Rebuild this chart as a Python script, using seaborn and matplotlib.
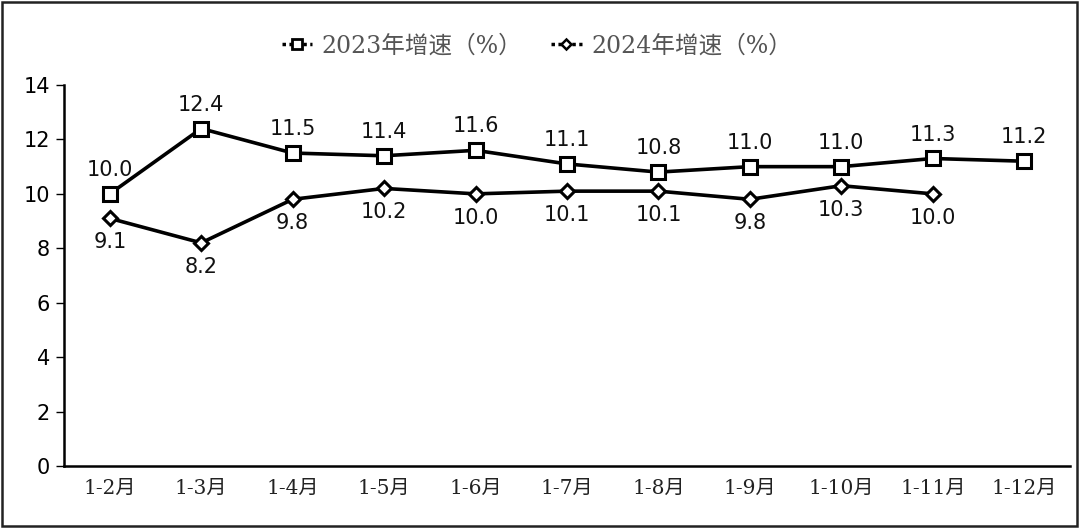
import pandas as pd
import matplotlib.pyplot as plt
import seaborn as sns
from matplotlib.patches import Rectangle
from matplotlib.lines import Line2D

months = ["1-2月", "1-3月", "1-4月", "1-5月", "1-6月", "1-7月",
          "1-8月", "1-9月", "1-10月", "1-11月", "1-12月"]
growth_2023 = [10.0, 12.4, 11.5, 11.4, 11.6, 11.1, 10.8, 11.0, 11.0, 11.3, 11.2]
growth_2024 = [9.1, 8.2, 9.8, 10.2, 10.0, 10.1, 10.1, 9.8, 10.3, 10.0]
series_names = ["2023年增速（%）", "2024年增速（%）"]

sns.set_style("white")
plt.rcParams['font.family'] = ['DejaVu Sans', 'Noto Sans CJK SC']
serif_cjk = ['DejaVu Serif', 'Noto Sans CJK SC']

df = pd.concat([
    pd.DataFrame({"x": range(len(growth_2023)), "val": growth_2023, "series": series_names[0]}),
    pd.DataFrame({"x": range(len(growth_2024)), "val": growth_2024, "series": series_names[1]}),
])

fig = plt.figure(figsize=(10.8, 5.28), dpi=100)
ax = fig.add_axes([0.0593, 0.1174, 0.9314, 0.7216])

sns.lineplot(data=df, x="x", y="val", hue="series", style="series",
             markers={series_names[0]: "s", series_names[1]: "D"},
             dashes=False, palette=["black", "black"], linewidth=2.6,
             markersize=9, ax=ax, legend=False)
# hollow markers
for line, ms in zip(ax.get_lines(), [10, 7]):
    line.set_markerfacecolor("white")
    line.set_markeredgecolor("black")
    line.set_markeredgewidth(2.2)
    line.set_markersize(ms)

for i, v in enumerate(growth_2023):
    ax.annotate(f"{v:.1f}", (i, v), xytext=(0, 10), textcoords="offset points",
                ha="center", va="bottom", fontsize=15, color="#111111")
for i, v in enumerate(growth_2024):
    ax.annotate(f"{v:.1f}", (i, v), xytext=(0, -10), textcoords="offset points",
                ha="center", va="top", fontsize=15, color="#111111")

ax.set_xlim(-0.5, len(months) - 0.5)
ax.set_ylim(0, 14)
ax.set_yticks(range(0, 15, 2))
ax.set_xticks(range(len(months)))
ax.set_xticklabels(months, family=serif_cjk, fontsize=14.5, color="#222222")
ax.tick_params(axis="y", labelsize=15, length=6, width=1, colors="black", pad=4, direction="out", left=True)
ax.tick_params(axis="x", length=0, pad=9)
for s in ["top", "right"]:
    ax.spines[s].set_visible(False)
for s in ["left", "bottom"]:
    ax.spines[s].set_color("black")
    ax.spines[s].set_linewidth(1.8)
ax.set_xlabel("")
ax.set_ylabel("")

# legend
handles = [
    Line2D([], [], color="black", linestyle=(0, (1, 1)), linewidth=2.5, marker="s",
           markerfacecolor="white", markeredgecolor="black", markeredgewidth=2, markersize=7),
    Line2D([], [], color="black", linestyle=(0, (1, 1)), linewidth=2.5, marker="D",
           markerfacecolor="white", markeredgecolor="black", markeredgewidth=1.8, markersize=5.5),
]
fig.legend(handles, series_names, loc="center", bbox_to_anchor=(0.497, 0.913), ncol=2,
           frameon=False, handlelength=1.3, handletextpad=0.4, columnspacing=1.2,
           prop={"family": serif_cjk, "size": 17},
           labelcolor="#555555")

fig.patches.append(Rectangle((0.002, 0.004), 0.995, 0.992, transform=fig.transFigure,
                             fill=False, edgecolor="#222222", linewidth=1.8))

fig.savefig("out.png", dpi=100)
